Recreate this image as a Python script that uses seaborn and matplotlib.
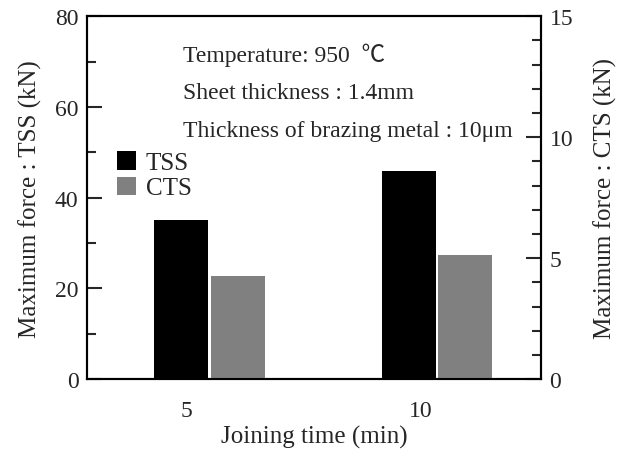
import pandas as pd
import matplotlib.pyplot as plt
import seaborn as sns
from matplotlib.ticker import MultipleLocator

# 데이터
times = ['5', '10']
tss = [35.0, 45.8]   # kN, left axis
cts = [4.27, 5.15]   # kN, right axis
series = ['TSS', 'CTS']
colors = {'TSS': '#000000', 'CTS': '#808080'}

sns.set_style('ticks')
plt.rcParams['font.family'] = ['Liberation Serif', 'Noto Sans CJK JP', 'DejaVu Sans']

df_tss = pd.DataFrame({'time': times, 'value': tss, 'series': 'TSS'})
df_cts = pd.DataFrame({'time': times, 'value': cts, 'series': 'CTS'})

fig = plt.figure(figsize=(6.3, 4.52), dpi=100)
ax = fig.add_axes([0.138, 0.159, 0.721, 0.803])
ax2 = ax.twinx()

# TSS는 왼쪽 축, CTS는 오른쪽 축
sns.barplot(data=df_tss, x='time', y='value', hue='series', hue_order=series,
            palette=colors, order=times, width=0.496, gap=0.043, dodge=True,
            linewidth=0, saturation=1, legend=False, ax=ax)
sns.barplot(data=df_cts, x='time', y='value', hue='series', hue_order=series,
            palette=colors, order=times, width=0.496, gap=0.043, dodge=True,
            linewidth=0, saturation=1, legend=False, ax=ax2)

ax.set_xlim(-0.539, 1.459)
ax.set_ylim(0, 80)
ax2.set_ylim(0, 15)
ax.set_xticks([-0.1, 0.93], labels=times)

ax.yaxis.set_major_locator(MultipleLocator(20))
ax.yaxis.set_minor_locator(MultipleLocator(10))
ax2.yaxis.set_major_locator(MultipleLocator(5))
ax2.yaxis.set_minor_locator(MultipleLocator(1))

for a in (ax, ax2):
    for s in a.spines.values():
        s.set_linewidth(1.5)
        s.set_color('black')
    a.tick_params(axis='y', which='major', direction='in', length=11, width=1.5,
                  labelsize=17, pad=6)
    a.tick_params(axis='y', which='minor', direction='in', length=6.5, width=1.5)
ax.tick_params(axis='x', length=0, labelsize=17, pad=15)

ax.set_xlabel('Joining time (min)', fontsize=18, labelpad=3)
ax.set_ylabel('Maximum force : TSS (kN)', fontsize=18, labelpad=9)
ax2.set_ylabel('Maximum force : CTS (kN)', fontsize=18, labelpad=15)

notes = ['Temperature: 950  \u2103', 'Sheet thickness : 1.4mm',
         'Thickness of brazing metal : 10\u03bcm']
for i, t in enumerate(notes):
    ax2.text(0.211, 0.894 - i * 0.104, t, transform=ax.transAxes,
             fontsize=17, va='center', ha='left')

handles = [ax.patches[0], ax2.patches[-1]]
ax2.legend(handles, series, loc='upper left', bbox_to_anchor=(0.066, 0.628),
           frameon=False, fontsize=18, borderpad=0, borderaxespad=0,
           handlelength=0.75, handleheight=0.75, handletextpad=0.4,
           labelspacing=0.1)

fig.savefig('out.png', dpi=100)
